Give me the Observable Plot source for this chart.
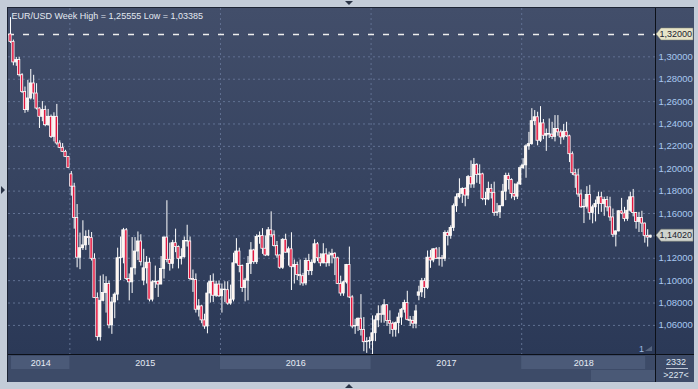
<!DOCTYPE html>
<html><head><meta charset="utf-8">
<script src="https://cdn.jsdelivr.net/npm/d3@7"></script>
<script src="https://cdn.jsdelivr.net/npm/@observablehq/plot@0.6"></script>
<style>
html,body{margin:0;padding:0;background:#c3ccd8;}
#wrap{position:relative;width:698px;height:389px;overflow:hidden;background:#c3ccd8;font-family:"Liberation Sans",Arial,sans-serif;}
#panel{position:absolute;left:7px;top:7px;width:687px;height:375px;box-sizing:border-box;background:#3d4b68;border-top:1px solid #1c2434;border-left:1px solid #1c2434;}
#plotbg{position:absolute;left:8px;top:8px;width:686px;height:346px;background:linear-gradient(#424e6a,#2b3957);}
#vline{position:absolute;left:655px;top:8px;width:1px;height:374px;background:#0c1018;}
#hline{position:absolute;left:8px;top:354px;width:686px;height:1px;background:#0c1018;}
#main,#axis,#deco{position:absolute;left:0;}
#main{top:0;} #axis{top:355px;} #deco{top:0;}
</style></head>
<body>
<div id="wrap">
  <div id="panel"></div>
  <div id="plotbg"></div>
  <div id="axis"></div>
  <div id="main"></div>
  <div id="vline"></div>
  <div id="hline"></div>
  <svg id="deco" width="698" height="389" style="pointer-events:none">
    <polygon points="345,1 353,1 349,5" fill="#2a3447"/>
    <polygon points="345,388 353,388 349,384" fill="#2a3447"/>
    <polygon points="1,186 1,194 5,190" fill="#2a3447"/>
    <rect x="591" y="370" width="64" height="11" fill="#4a5976"/>
    <text x="639" y="352" fill="#9fbde3" font-size="9" font-family="Liberation Sans, Arial, sans-serif">1</text>
    <polygon points="645,351 652,351 652,346" fill="#56657f"/>
    <text x="676" y="365" fill="#dfe6f0" font-size="9" text-anchor="middle" font-family="Liberation Sans, Arial, sans-serif">2332</text>
    <line x1="666" x2="688" y1="368.5" y2="368.5" stroke="#dfe6f0" stroke-width="0.8"/>
    <text x="676" y="377.5" fill="#dfe6f0" font-size="9" text-anchor="middle" font-family="Liberation Sans, Arial, sans-serif">&gt;227&lt;</text>
  </svg>
</div>
<script>
// Weekly EUR/USD candles
const open = [
1.3200,1.3134,1.2950,1.2971,1.2836,1.2687,1.2524,1.2628,1.2762,1.2672,
1.2538,1.2464,1.2524,1.2389,1.2464,1.2285,1.2464,1.2226,1.2187,1.2151,
1.2106,1.1950,1.1840,1.1560,1.1205,1.1290,1.1315,1.1390,1.1380,1.1195,
1.0845,1.0495,1.0820,1.0890,1.0970,1.0600,1.0805,1.0875,1.1200,1.1205,
1.1450,1.1015,1.0985,1.1110,1.1260,1.1350,1.1000,1.1110,1.1160,1.0830,
1.0985,1.0990,1.0965,1.1105,1.1385,1.1185,1.1150,1.1335,1.1300,1.1195,
1.1210,1.1355,1.1350,1.1015,1.1005,1.0740,1.0770,1.0645,1.0590,1.0885,
1.0990,1.0865,1.0965,1.0860,1.0920,1.0915,1.0795,1.0830,1.1155,1.1260,
1.1130,1.0935,1.1000,1.1150,1.1270,1.1165,1.1390,1.1400,1.1285,1.1225,
1.1450,1.1405,1.1310,1.1225,1.1115,1.1365,1.1250,1.1280,1.1120,1.1140,
1.1050,1.1040,1.0975,1.1175,1.1085,1.1160,1.1325,1.1200,1.1155,1.1235,
1.1155,1.1225,1.1240,1.1200,1.0970,1.0885,1.0985,1.1140,1.0850,1.0590,
1.0595,1.0660,1.0560,1.0450,1.0455,1.0460,1.0530,1.0645,1.0700,1.0695,
1.0780,1.0640,1.0615,1.0560,1.0620,1.0670,1.0740,1.0800,1.0650,1.0640,
1.0615,1.0865,1.0895,1.0995,1.0935,1.1205,1.1180,1.1280,1.1195,1.1200,
1.1195,1.1425,1.1400,1.1470,1.1665,1.1745,1.1775,1.1820,1.1760,1.1925,
1.1860,1.2035,1.1945,1.1950,1.1730,1.1725,1.1820,1.1785,1.1605,1.1610,
1.1665,1.1795,1.1935,1.1900,1.1775,1.1750,1.1860,1.2005,1.2030,1.2200,
1.2220,1.2425,1.2460,1.2250,1.2405,1.2295,1.2310,1.2305,1.2285,1.2355,
1.2325,1.2280,1.2330,1.2290,1.2130,1.1960,1.1940,1.1770,1.1655,1.1660,
1.1765,1.1605,1.1655,1.1685,1.1745,1.1685,1.1720,1.1655,1.1565,1.1410,
1.1440,1.1620,1.1600,1.1550,1.1625,1.1745,1.1605,1.1525,1.1560,1.1510,
1.1400,1.1385];
const high = [
1.3350,1.3150,1.2995,1.2995,1.2850,1.2730,1.2790,1.2887,1.2835,1.2760,
1.2545,1.2600,1.2560,1.2530,1.2480,1.2500,1.2575,1.2250,1.2225,1.2165,
1.2110,1.1975,1.1870,1.1680,1.1425,1.1535,1.1445,1.1450,1.1430,1.1240,
1.0890,1.1040,1.1052,1.1035,1.0995,1.0850,1.0890,1.1290,1.1390,1.1467,
1.1465,1.1060,1.1385,1.1385,1.1435,1.1410,1.1280,1.1215,1.1200,1.1000,
1.1130,1.1000,1.1215,1.1390,1.1714,1.1335,1.1360,1.1460,1.1310,1.1285,
1.1390,1.1495,1.1390,1.1095,1.1060,1.0830,1.0780,1.0700,1.0980,1.1045,
1.1060,1.0995,1.0995,1.0970,1.0990,1.0990,1.0960,1.1245,1.1375,1.1290,
1.1140,1.1020,1.1215,1.1340,1.1280,1.1410,1.1435,1.1465,1.1400,1.1475,
1.1615,1.1445,1.1350,1.1230,1.1375,1.1415,1.1300,1.1428,1.1185,1.1165,
1.1185,1.1065,1.1200,1.1235,1.1185,1.1365,1.1340,1.1240,1.1330,1.1285,
1.1255,1.1280,1.1250,1.1210,1.1040,1.0995,1.1145,1.1300,1.0865,1.0655,
1.0665,1.0875,1.0670,1.0490,1.0495,1.0685,1.0685,1.0775,1.0775,1.0830,
1.0785,1.0730,1.0630,1.0630,1.0710,1.0750,1.0825,1.0905,1.0680,1.0680,
1.0780,1.0950,1.1020,1.1020,1.1265,1.1270,1.1285,1.1295,1.1295,1.1225,
1.1445,1.1445,1.1490,1.1685,1.1775,1.1910,1.1830,1.1830,1.1940,1.2070,
1.2092,1.2045,1.2035,1.1960,1.1790,1.1880,1.1860,1.1880,1.1690,1.1670,
1.1860,1.1960,1.1960,1.1910,1.1865,1.1880,1.2025,1.2090,1.2215,1.2325,
1.2537,1.2520,1.2505,1.2555,1.2440,1.2355,1.2445,1.2415,1.2475,1.2475,
1.2345,1.2395,1.2415,1.2300,1.2150,1.1995,1.1995,1.1810,1.1725,1.1840,
1.1852,1.1675,1.1720,1.1790,1.1790,1.1745,1.1750,1.1745,1.1640,1.1445,
1.1625,1.1735,1.1655,1.1720,1.1790,1.1815,1.1610,1.1610,1.1620,1.1515,
1.1455,1.1405];
const low = [
1.3120,1.2920,1.2915,1.2820,1.2672,1.2495,1.2505,1.2615,1.2615,1.2525,
1.2360,1.2420,1.2375,1.2380,1.2270,1.2240,1.2210,1.2180,1.2145,1.2100,
1.2005,1.1755,1.1460,1.1115,1.1098,1.1270,1.1270,1.1315,1.1175,1.0840,
1.0460,1.0460,1.0810,1.0710,1.0570,1.0520,1.0660,1.0820,1.1000,1.1150,
1.1000,1.0819,1.0885,1.1050,1.1180,1.1130,1.0955,1.0970,1.0810,1.0810,
1.0930,1.0850,1.0965,1.1015,1.1160,1.1085,1.1105,1.1250,1.1105,1.1140,
1.1200,1.1300,1.1000,1.0895,1.0710,1.0675,1.0615,1.0565,1.0525,1.0800,
1.0805,1.0850,1.0850,1.0710,1.0805,1.0780,1.0780,1.0810,1.1150,1.1070,
1.0895,1.0810,1.0820,1.1055,1.1145,1.1145,1.1325,1.1235,1.1215,1.1215,
1.1385,1.1300,1.1200,1.1100,1.1100,1.1245,1.1130,1.0912,1.0970,1.1000,
1.0955,1.0950,1.0955,1.1045,1.1045,1.1150,1.1170,1.1125,1.1150,1.1120,
1.1125,1.1150,1.1045,1.0965,1.0860,1.0860,1.0970,1.0840,1.0570,1.0520,
1.0545,1.0505,1.0365,1.0350,1.0390,1.0340,1.0455,1.0580,1.0620,1.0620,
1.0590,1.0520,1.0495,1.0495,1.0525,1.0600,1.0710,1.0640,1.0590,1.0570,
1.0570,1.0820,1.0850,1.0840,1.0920,1.1110,1.1160,1.1190,1.1130,1.1120,
1.1170,1.1310,1.1370,1.1440,1.1610,1.1730,1.1690,1.1660,1.1725,1.1825,
1.1825,1.1870,1.1860,1.1715,1.1670,1.1715,1.1730,1.1575,1.1575,1.1555,
1.1660,1.1715,1.1810,1.1730,1.1715,1.1725,1.1850,1.1995,1.1915,1.2165,
1.2210,1.2385,1.2205,1.2235,1.2260,1.2155,1.2270,1.2260,1.2240,1.2290,
1.2215,1.2255,1.2280,1.2055,1.1940,1.1825,1.1745,1.1645,1.1510,1.1640,
1.1540,1.1508,1.1525,1.1590,1.1610,1.1575,1.1615,1.1530,1.1385,1.1301,
1.1435,1.1590,1.1525,1.1530,1.1610,1.1570,1.1460,1.1430,1.1430,1.1335,
1.1300,1.1380];
const close = [
1.3134,1.2950,1.2971,1.2836,1.2687,1.2524,1.2628,1.2762,1.2672,1.2538,
1.2464,1.2524,1.2389,1.2464,1.2285,1.2464,1.2226,1.2187,1.2151,1.2106,
1.2008,1.1840,1.1560,1.1205,1.1290,1.1315,1.1390,1.1380,1.1195,1.0845,
1.0495,1.0820,1.0890,1.0970,1.0600,1.0805,1.0875,1.1200,1.1205,1.1450,
1.1015,1.0985,1.1110,1.1260,1.1350,1.1165,1.1110,1.1160,1.0830,1.0985,
1.0990,1.0965,1.1105,1.1385,1.1185,1.1150,1.1335,1.1300,1.1195,1.1210,
1.1355,1.1350,1.1015,1.1005,1.0740,1.0770,1.0645,1.0590,1.0885,1.0990,
1.0865,1.0965,1.0860,1.0920,1.0915,1.0795,1.0830,1.1155,1.1260,1.1130,
1.0935,1.1000,1.1150,1.1270,1.1165,1.1390,1.1400,1.1285,1.1225,1.1450,
1.1405,1.1310,1.1225,1.1115,1.1365,1.1250,1.1280,1.1120,1.1140,1.1050,
1.1040,1.0975,1.1175,1.1085,1.1160,1.1325,1.1200,1.1155,1.1235,1.1155,
1.1225,1.1240,1.1200,1.0970,1.0885,1.0985,1.1140,1.0850,1.0590,1.0595,
1.0660,1.0560,1.0450,1.0455,1.0460,1.0530,1.0645,1.0700,1.0695,1.0780,
1.0640,1.0615,1.0560,1.0620,1.0670,1.0740,1.0800,1.0650,1.0640,1.0615,
1.0725,1.0895,1.0995,1.0935,1.1205,1.1180,1.1280,1.1195,1.1200,1.1195,
1.1425,1.1400,1.1470,1.1665,1.1745,1.1775,1.1820,1.1760,1.1925,1.1860,
1.2035,1.1945,1.1950,1.1730,1.1725,1.1820,1.1785,1.1605,1.1610,1.1665,
1.1795,1.1935,1.1900,1.1775,1.1750,1.1860,1.2005,1.2030,1.2200,1.2220,
1.2425,1.2460,1.2250,1.2405,1.2295,1.2310,1.2305,1.2285,1.2355,1.2325,
1.2280,1.2330,1.2290,1.2130,1.1960,1.1940,1.1770,1.1655,1.1660,1.1765,
1.1605,1.1655,1.1685,1.1745,1.1685,1.1720,1.1655,1.1565,1.1410,1.1440,
1.1620,1.1600,1.1550,1.1625,1.1745,1.1605,1.1525,1.1560,1.1510,1.1400,
1.1385,1.1402];

const priceTicks = [1.06,1.08,1.10,1.12,1.14,1.16,1.18,1.20,1.22,1.24,1.26,1.28,1.30];
const refLevel = 1.32;
const lastPrice = 1.1402;
const years = ["2014","2015","2016","2017","2018"];
const yearStart = [0.35, 20.5, 72.5, 124.5, 176.5];
const yearEnd = [20.5, 72.5, 124.5, 176.5, 219.3];
const header = "EUR/USD Week High = 1,25555 Low = 1,03385";

const fmt = v => v.toFixed(5).replace(".", ",");
const bars = open.map((o, i) => ({i, o, h: high[i], l: low[i], c: close[i]}));
const ups = bars.filter(d => d.c >= d.o);
const downs = bars.filter(d => d.c < d.o);
const xDomain = [-0.69, 222.7];
const FONT = "Liberation Sans, Arial, sans-serif";
// tick labels hidden under the boxed last-price label
const labelTicks = priceTicks.filter(t => Math.abs(t - lastPrice) > 0.008);

const main = Plot.plot({
  width: 698, height: 354,
  marginTop: 8, marginBottom: 0, marginLeft: 8, marginRight: 43,
  style: {background: "transparent", fontFamily: FONT, fontSize: "9px", overflow: "visible"},
  x: {domain: xDomain, axis: null},
  y: {domain: [1.0340, 1.3432], axis: null},
  marks: [
    Plot.ruleY(priceTicks, {stroke: "#617192", strokeDasharray: "2,3", strokeWidth: 1}),
    Plot.ruleX(yearStart.slice(1), {stroke: "#617192", strokeDasharray: "2,3", strokeWidth: 1}),
    Plot.ruleY([refLevel], {stroke: "#eeeeee", strokeWidth: 1.6, strokeDasharray: "6,9"}),
    Plot.ruleX(bars, {x: "i", y1: "l", y2: "h", stroke: "#ffffff", strokeWidth: 1}),
    Plot.rect(ups, {x1: d => d.i - 0.4, x2: d => d.i + 0.4, y1: "o", y2: "c", fill: "#fff4ec", stroke: "#ffffff", strokeWidth: 0.8}),
    Plot.rect(downs, {x1: d => d.i - 0.4, x2: d => d.i + 0.4, y1: "o", y2: "c", fill: "#e3163e", stroke: "#ffffff", strokeWidth: 0.8}),
    Plot.axisY({anchor: "right", ticks: labelTicks, tickFormat: fmt, tickSize: 0, tickPadding: 3, color: "#a8c8f0", fontSize: 9.5, label: null}),
    Plot.text([header], {frameAnchor: "top-left", dx: 3, dy: 4, lineAnchor: "top", textAnchor: "start", fill: "#e2e8f0", fontSize: 9})
  ]
});
document.getElementById("main").appendChild(main);

// boxed price labels on the right axis
const ys = main.scale("y");
const svg = d3.select(main);
[[refLevel, "#e7e4c8"], [lastPrice, "#d0d4cf"]].forEach(([v, f]) => {
  const y = ys.apply(v);
  svg.append("polygon")
    .attr("points", `656,${y} 661,${y-6} 693,${y-6} 693,${y+6} 661,${y+6}`)
    .attr("fill", f).attr("stroke", "#7e8070").attr("stroke-width", 0.5);
  svg.append("text").attr("x", 659.5).attr("y", y + 3.2)
    .attr("text-anchor", "start")
    .attr("fill", "#1b2130").attr("font-size", 9).attr("font-family", FONT)
    .text(fmt(v));
});

// bottom time axis with year bands
const yearRows = years.map((y, k) => ({y, s: yearStart[k], e: yearEnd[k], hi: k % 2 === 0}));
const axis = Plot.plot({
  width: 698, height: 27,
  marginTop: 0, marginBottom: 0, marginLeft: 8, marginRight: 43,
  style: {background: "transparent", fontFamily: FONT, overflow: "visible"},
  x: {domain: xDomain, axis: null},
  y: {domain: [0, 27], range: [0, 27], axis: null},
  marks: [
    Plot.rect(yearRows.filter(d => d.hi), {x1: "s", x2: "e", y1: 1, y2: 14, fill: "#4b5a78"}),
    Plot.text(yearRows, {x: d => (d.s + d.e) / 2, y: 8, text: "y", fill: "#e6ecf5", fontSize: 9})
  ]
});
document.getElementById("axis").appendChild(axis);
</script>
</body></html>
